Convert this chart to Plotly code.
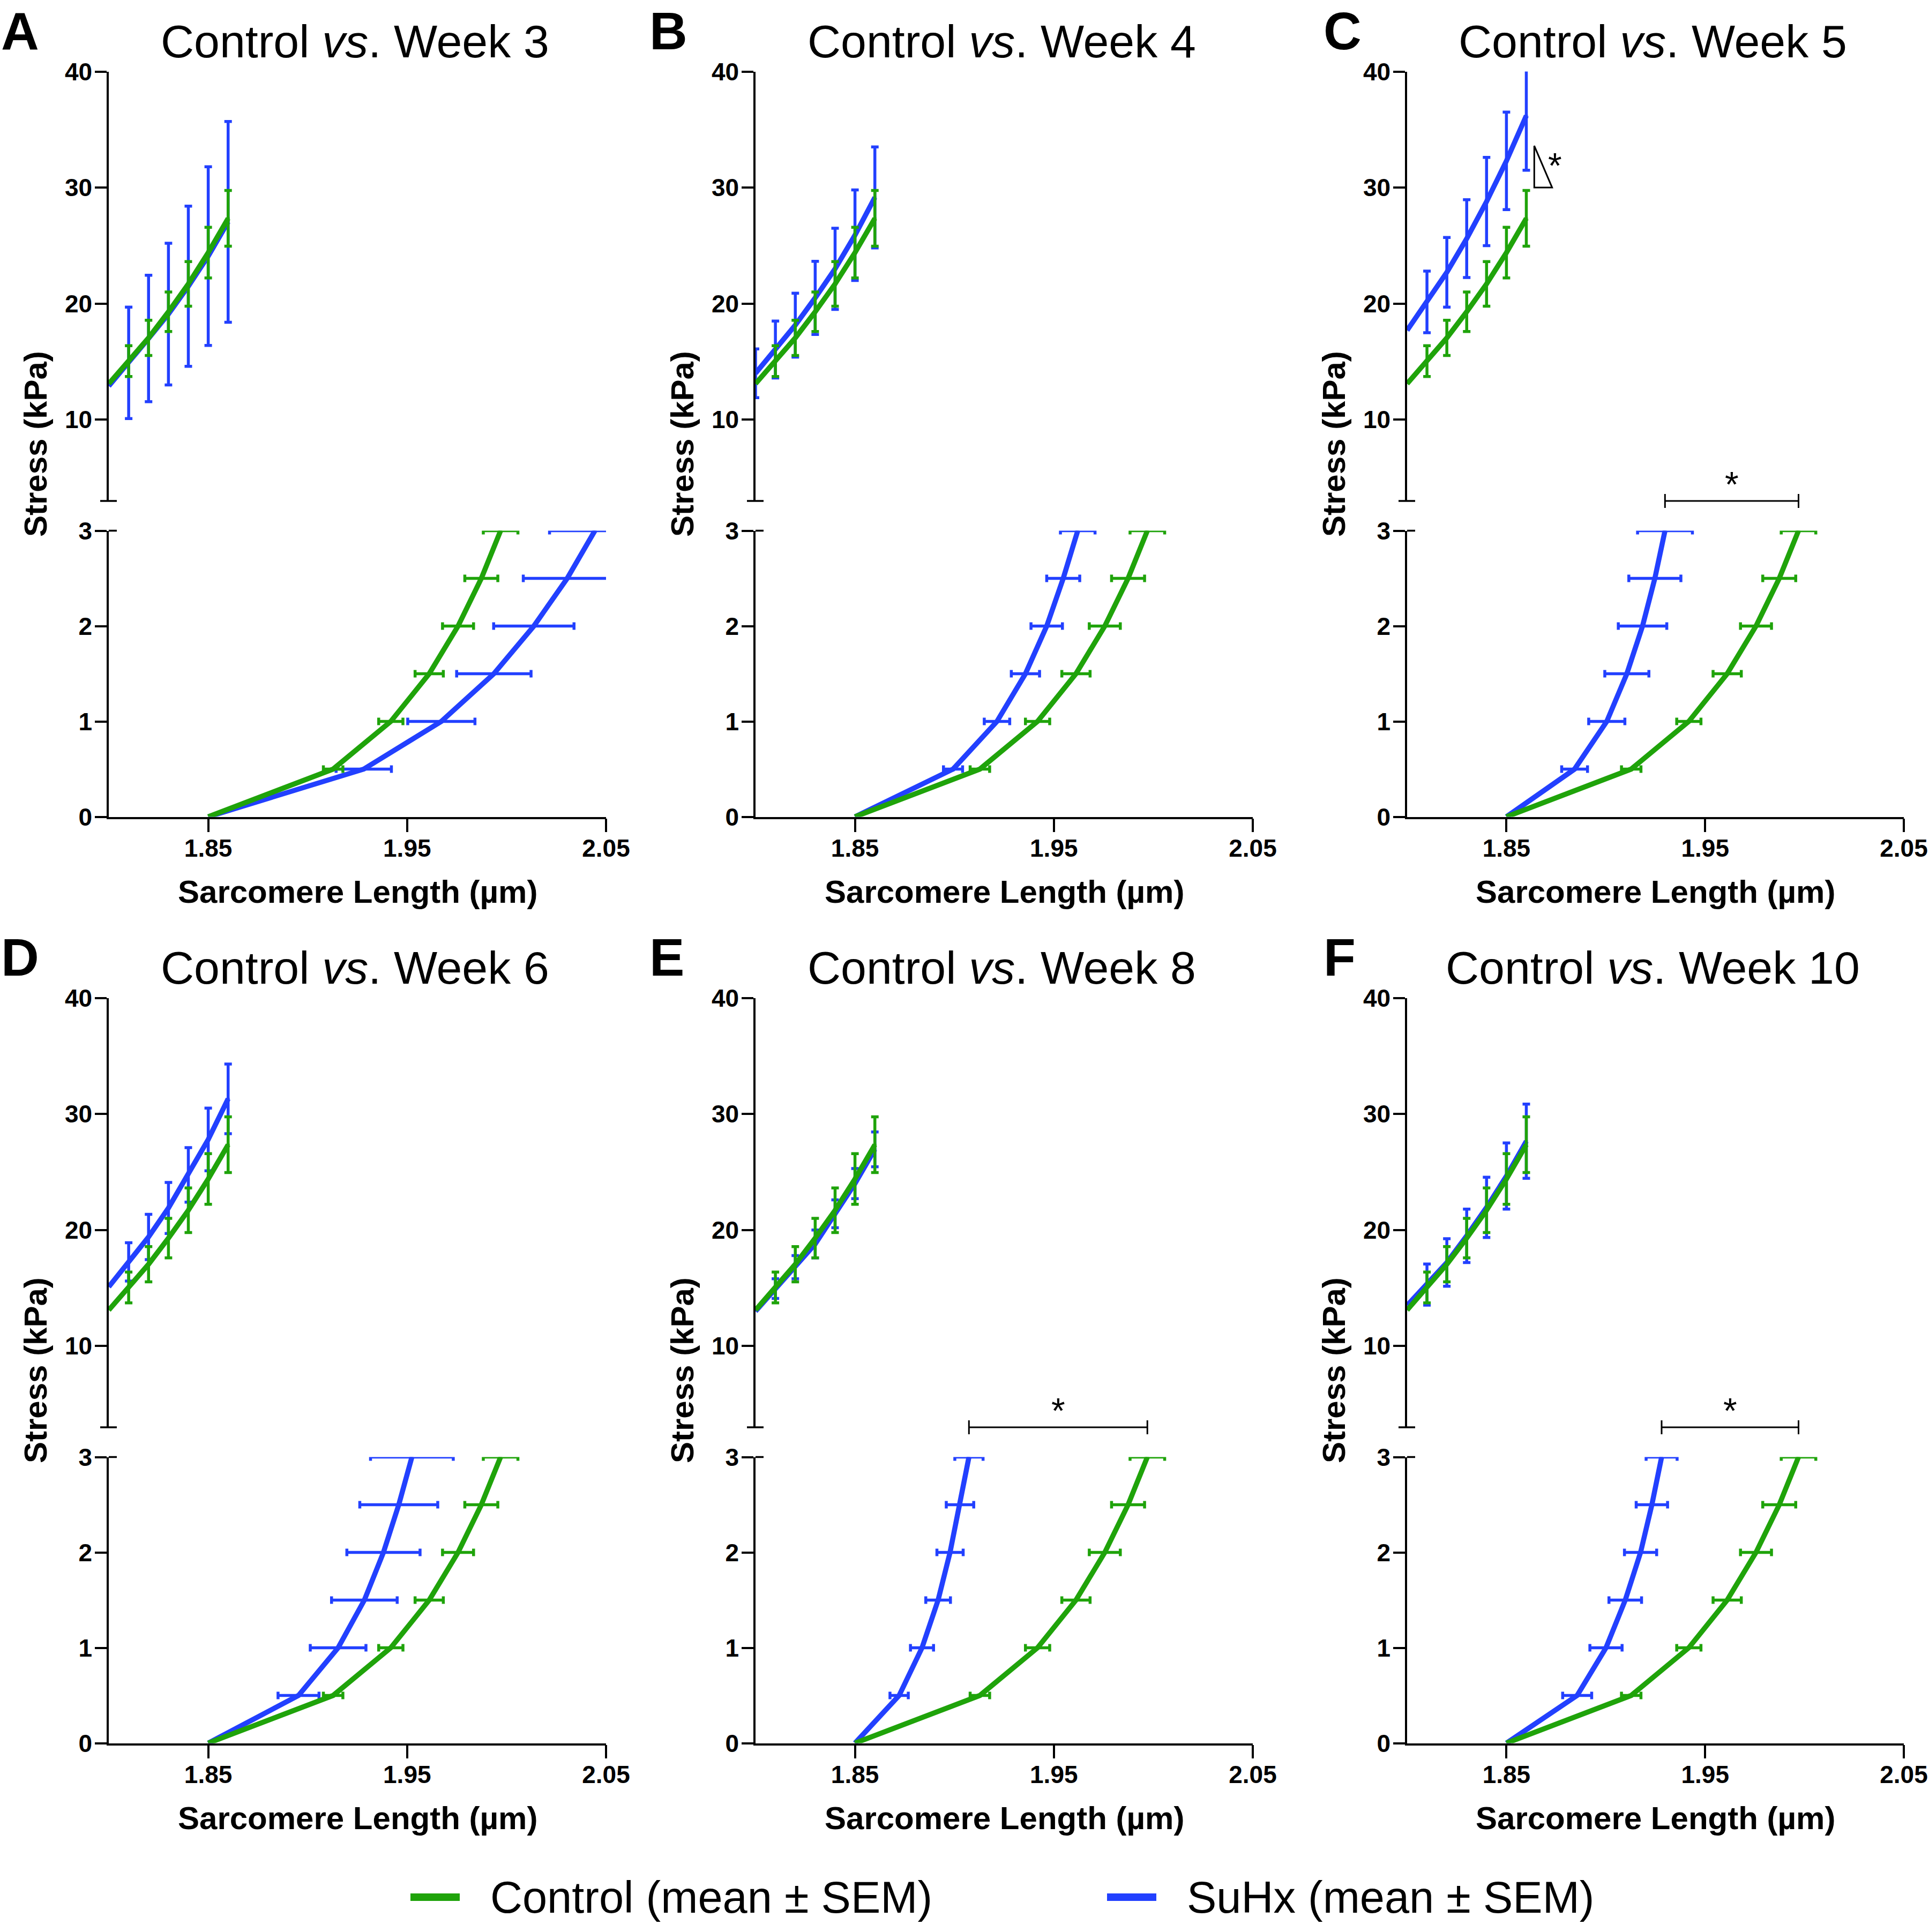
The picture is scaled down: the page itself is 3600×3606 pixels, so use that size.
import plotly.graph_objects as go

W, H = 3600, 3606
FONT = "Liberation Sans, Arial, Helvetica, sans-serif"
GREEN = "#1FA30A"
BLUE = "#2240FF"

PANELS = ["A", "B", "C", "D", "E", "F"]
WEEKS = ["3", "4", "5", "6", "8", "10"]

# ---- upper (high stress) section : sarcomere length (um) / stress (kPa)
TOP_SL = [1.81, 1.82, 1.83, 1.84, 1.85, 1.86]
TOP_START_SL = 1.80
CTRL_TOP_START = 13.1
CTRL_TOP_MEAN = [15.05, 17.05, 19.3, 21.7, 24.4, 27.35]
CTRL_TOP_SEM = [1.33, 1.52, 1.7, 1.92, 2.18, 2.4]

SUHX_TOP_START = [12.9, 14.0, 17.7, 15.1, 13.0, 13.5]
SUHX_TOP_START_SEM = [None, 2.1, None, None, None, None]
SUHX_TOP_MEAN_W3 = [14.9, 17.0, 19.1, 21.5, 24.1, 27.05]
SUHX_TOP_SEM_W3 = [4.8, 5.45, 6.1, 6.9, 7.7, 8.65]
SUHX_TOP_MEAN_W4 = [16.05, 18.15, 20.5, 23.0, 25.9, 29.15]
SUHX_TOP_SEM_W4 = [2.45, 2.75, 3.15, 3.5, 3.9, 4.35]
SUHX_TOP_MEAN_W5 = [20.15, 22.7, 25.6, 28.8, 32.3, 36.2]
SUHX_TOP_SEM_W5 = [2.65, 3.0, 3.35, 3.8, 4.2, 4.7]
SUHX_TOP_MEAN_W6 = [17.25, 19.4, 21.9, 24.75, 27.8, 31.3]
SUHX_TOP_SEM_W6 = [1.65, 1.95, 2.2, 2.35, 2.7, 3.0]
SUHX_TOP_MEAN_W8 = [14.95, 16.8, 18.8, 21.4, 24.0, 26.95]
SUHX_TOP_SEM_W8 = [0.85, 1.0, 1.2, 1.2, 1.3, 1.5]
SUHX_TOP_MEAN_W10 = [15.3, 17.2, 19.5, 21.95, 24.65, 27.65]
SUHX_TOP_SEM_W10 = [1.77, 2.05, 2.3, 2.6, 2.85, 3.2]

# ---- lower (low stress) section : stress (kPa) / sarcomere length (um)
STRESS = [0, 0.5, 1.0, 1.5, 2.0, 2.5, 3.0]
CTRL_SL = [1.85, 1.9128, 1.9418, 1.9611, 1.9756, 1.9873, 1.997]
CTRL_SL_SEM = [0.0049, 0.0061, 0.0071, 0.0078, 0.0083, 0.0087]

SUHX_SL_W3 = [1.85, 1.9282, 1.9672, 1.9936, 2.0137, 2.0305, 2.0444]
SUHX_SL_SEM_W3 = [0.0139, 0.0169, 0.0187, 0.0202, 0.0221, 0.0228]
SUHX_SL_W4 = [1.85, 1.8993, 1.9214, 1.9357, 1.9464, 1.9547, 1.9620]
SUHX_SL_SEM_W4 = [0.0048, 0.0064, 0.0071, 0.0079, 0.0083, 0.0087]
SUHX_SL_W5 = [1.85, 1.8843, 1.9005, 1.9106, 1.9185, 1.9247, 1.9298]
SUHX_SL_SEM_W5 = [0.0065, 0.0091, 0.0111, 0.0122, 0.0131, 0.0138]
SUHX_SL_W6 = [1.85, 1.8954, 1.9153, 1.9285, 1.9381, 1.9458, 1.9524]
SUHX_SL_SEM_W6 = [0.0103, 0.014, 0.0165, 0.0184, 0.0196, 0.0208]
SUHX_SL_W8 = [1.85, 1.8722, 1.8837, 1.8918, 1.8978, 1.9028, 1.9073]
SUHX_SL_SEM_W8 = [0.0046, 0.0058, 0.0062, 0.0066, 0.0069, 0.0071]
SUHX_SL_W10 = [1.85, 1.8856, 1.9001, 1.9098, 1.9175, 1.9232, 1.9281]
SUHX_SL_SEM_W10 = [0.0073, 0.0081, 0.0082, 0.0081, 0.0079, 0.0078]

X_TICKS = [1.85, 1.95, 2.05]
X_TICKTEXT = ["1.85", "1.95", "2.05"]
TOP_Y_TICKS = [10, 20, 30, 40]
BOT_Y_TICKS = [0, 1, 2, 3]

# significance marks
SIG_BRACKET = [False, False, True, False, True, True]
TRI_PANEL = 2
TRI_X = [1.864, 1.873]
TRI_Y = [30.0, 33.6]

SUHX_TOP_MEAN = [SUHX_TOP_MEAN_W3, SUHX_TOP_MEAN_W4, SUHX_TOP_MEAN_W5,
                 SUHX_TOP_MEAN_W6, SUHX_TOP_MEAN_W8, SUHX_TOP_MEAN_W10]
SUHX_TOP_SEM = [SUHX_TOP_SEM_W3, SUHX_TOP_SEM_W4, SUHX_TOP_SEM_W5,
                SUHX_TOP_SEM_W6, SUHX_TOP_SEM_W8, SUHX_TOP_SEM_W10]
SUHX_SL = [SUHX_SL_W3, SUHX_SL_W4, SUHX_SL_W5, SUHX_SL_W6, SUHX_SL_W8, SUHX_SL_W10]
SUHX_SL_SEM = [SUHX_SL_SEM_W3, SUHX_SL_SEM_W4, SUHX_SL_SEM_W5,
               SUHX_SL_SEM_W6, SUHX_SL_SEM_W8, SUHX_SL_SEM_W10]

# ---- geometry in pixels
COL_PX = [(203, 1131), (1410, 2338), (2626, 3553)]
ROW_TOP_PX = [(133.5, 935), (1862.5, 2664)]
ROW_BOT_PX = [(990.5, 1524.5), (2719.5, 3253.5)]
LETTER_X_PX = [0, 1210, 2468]
ROW_SHIFT = 1729


def pxx(p):
    return p / W


def pxy(p):
    return 1 - p / H


LINE_W = 9.5
ERR_T = 5.5
ERR_W = 7
AX_W = 3.5

fig = go.Figure()
layout = dict(
    template="none",
    width=W, height=H, margin=dict(l=0, r=0, t=0, b=0, pad=0, autoexpand=False),
    paper_bgcolor="white", plot_bgcolor="white", showlegend=False,
    font=dict(family=FONT, color="black"),
)
annotations = []
shapes = []

tickfont = dict(family=FONT, size=46, color="black", weight="bold")

for i in range(6):
    r, c = divmod(i, 3)
    x0p, x1p = COL_PX[c]
    t0, t1 = ROW_TOP_PX[r]
    b0, b1 = ROW_BOT_PX[r]
    ti, bi = 2 * i + 1, 2 * i + 2
    tx = "x" if ti == 1 else f"x{ti}"
    ty = "y" if ti == 1 else f"y{ti}"
    bx, by = f"x{bi}", f"y{bi}"
    txk = "xaxis" if ti == 1 else f"xaxis{ti}"
    tyk = "yaxis" if ti == 1 else f"yaxis{ti}"
    bxk, byk = f"xaxis{bi}", f"yaxis{bi}"

    xdom = [pxx(x0p), pxx(x1p)]
    common = dict(showgrid=False, zeroline=False, automargin=False)
    layout[txk] = dict(domain=xdom, range=[1.80, 2.05], visible=False, anchor=ty, **common)
    layout[tyk] = dict(domain=[pxy(t1), pxy(t0)], range=[3, 40], anchor=tx,
                       showline=True, linewidth=AX_W, linecolor="black",
                       ticks="outside", ticklen=22, tickwidth=AX_W, tickcolor="black",
                       tickvals=TOP_Y_TICKS, tickfont=tickfont, ticklabelstandoff=-4, **common)
    layout[bxk] = dict(domain=xdom, range=[1.80, 2.05], anchor=by,
                       showline=True, linewidth=AX_W, linecolor="black",
                       ticks="outside", ticklen=25, tickwidth=AX_W, tickcolor="black",
                       tickvals=X_TICKS, ticktext=X_TICKTEXT, tickfont=tickfont,
                       ticklabelstandoff=-9, **common)
    layout[byk] = dict(domain=[pxy(b1), pxy(b0)], range=[0, 3], anchor=bx,
                       showline=True, linewidth=AX_W, linecolor="black",
                       ticks="outside", ticklen=22, tickwidth=AX_W, tickcolor="black",
                       tickvals=BOT_Y_TICKS, tickfont=tickfont, ticklabelstandoff=-4, **common)

    # ---------- upper section
    s_sem0 = SUHX_TOP_START_SEM[i]
    ex = ([TOP_START_SL] if s_sem0 is not None else []) + TOP_SL
    ey = ([SUHX_TOP_START[i]] if s_sem0 is not None else []) + SUHX_TOP_MEAN[i]
    ee = ([s_sem0] if s_sem0 is not None else []) + SUHX_TOP_SEM[i]
    clip_top = (max(m + s for m, s in zip(ey, ee)) > 40) or s_sem0 is None
    fig.add_trace(go.Scatter(x=ex, y=ey, mode="markers", marker=dict(size=0, color=BLUE),
                             error_y=dict(type="data", array=ee, color=BLUE,
                                          thickness=ERR_T, width=ERR_W),
                             cliponaxis=clip_top, xaxis=tx, yaxis=ty,
                             name="SuHx (mean ± SEM)", hoverinfo="skip"))
    fig.add_trace(go.Scatter(x=[TOP_START_SL] + TOP_SL, y=[SUHX_TOP_START[i]] + SUHX_TOP_MEAN[i],
                             mode="lines", line=dict(color=BLUE, width=LINE_W),
                             xaxis=tx, yaxis=ty, name="SuHx (mean ± SEM)"))
    fig.add_trace(go.Scatter(x=TOP_SL, y=CTRL_TOP_MEAN, mode="markers",
                             marker=dict(size=0, color=GREEN),
                             error_y=dict(type="data", array=CTRL_TOP_SEM, color=GREEN,
                                          thickness=ERR_T, width=ERR_W),
                             cliponaxis=clip_top, xaxis=tx, yaxis=ty,
                             name="Control (mean ± SEM)", hoverinfo="skip"))
    fig.add_trace(go.Scatter(x=[TOP_START_SL] + TOP_SL, y=[CTRL_TOP_START] + CTRL_TOP_MEAN,
                             mode="lines", line=dict(color=GREEN, width=LINE_W),
                             xaxis=tx, yaxis=ty, name="Control (mean ± SEM)"))

    # ---------- lower section
    fig.add_trace(go.Scatter(x=SUHX_SL[i][1:], y=STRESS[1:], mode="markers",
                             marker=dict(size=0, color=BLUE),
                             error_x=dict(type="data", array=SUHX_SL_SEM[i], color=BLUE,
                                          thickness=ERR_T, width=ERR_W),
                             xaxis=bx, yaxis=by, name="SuHx (mean ± SEM)", hoverinfo="skip"))
    fig.add_trace(go.Scatter(x=SUHX_SL[i], y=STRESS, mode="lines",
                             line=dict(color=BLUE, width=LINE_W),
                             xaxis=bx, yaxis=by, name="SuHx (mean ± SEM)"))
    fig.add_trace(go.Scatter(x=CTRL_SL[1:], y=STRESS[1:], mode="markers",
                             marker=dict(size=0, color=GREEN),
                             error_x=dict(type="data", array=CTRL_SL_SEM, color=GREEN,
                                          thickness=ERR_T, width=ERR_W),
                             xaxis=bx, yaxis=by, name="Control (mean ± SEM)", hoverinfo="skip"))
    fig.add_trace(go.Scatter(x=CTRL_SL, y=STRESS, mode="lines",
                             line=dict(color=GREEN, width=LINE_W),
                             xaxis=bx, yaxis=by, name="Control (mean ± SEM)"))

    # ---------- axis break marks
    shapes.append(dict(type="line", xref="paper", yref="paper",
                       x0=pxx(x0p - 16), x1=pxx(x0p + 15), y0=pxy(t1), y1=pxy(t1),
                       line=dict(color="black", width=AX_W)))
    shapes.append(dict(type="line", xref="paper", yref="paper",
                       x0=pxx(x0p), x1=pxx(x0p + 15), y0=pxy(b0), y1=pxy(b0),
                       line=dict(color="black", width=AX_W)))

    # ---------- texts
    cx = (x0p + x1p) / 2
    annotations.append(dict(text=f"Control <i>vs</i>. Week {WEEKS[i]}", xref="paper", yref="paper",
                            x=pxx(cx - 5), y=pxy(77 + r * ROW_SHIFT), xanchor="center",
                            yanchor="middle", showarrow=False,
                            font=dict(family=FONT, size=86, color="black")))
    annotations.append(dict(text=PANELS[i], xref="paper", yref="paper",
                            x=pxx(LETTER_X_PX[c]), y=pxy(58 + r * ROW_SHIFT), xanchor="left",
                            yanchor="middle", showarrow=False,
                            font=dict(family=FONT, size=98, color="black", weight="bold")))
    annotations.append(dict(text="Stress (kPa)", xref="paper", yref="paper", textangle=-90,
                            x=pxx(x0p - 137), y=pxy((t0 + b1) / 2), xanchor="center",
                            yanchor="middle", showarrow=False,
                            font=dict(family=FONT, size=60, color="black", weight="bold")))
    annotations.append(dict(text="Sarcomere Length (µm)", xref="paper", yref="paper",
                            x=pxx(cx), y=pxy(1664 + r * ROW_SHIFT), xanchor="center",
                            yanchor="middle", showarrow=False,
                            font=dict(family=FONT, size=60, color="black", weight="bold")))

    # ---------- significance bracket (lower section)
    if SIG_BRACKET[i]:
        xa, xb = SUHX_SL[i][-1], CTRL_SL[-1]
        yb = t1
        shapes.append(dict(type="line", xref=bx, yref="paper", x0=xa, x1=xb,
                           y0=pxy(yb), y1=pxy(yb), line=dict(color="black", width=3)))
        for xe in (xa, xb):
            shapes.append(dict(type="line", xref=bx, yref="paper", x0=xe, x1=xe,
                               y0=pxy(yb - 13), y1=pxy(yb + 13), line=dict(color="black", width=3)))
        annotations.append(dict(text="*", xref=bx, yref="paper", x=(xa + xb) / 2,
                                y=pxy(yb - 31), xanchor="center", yanchor="middle",
                                showarrow=False, font=dict(family=FONT, size=66, color="black")))

    # ---------- slope significance triangle (upper section)
    if i == TRI_PANEL:
        shapes.append(dict(type="path", xref=tx, yref=ty,
                           path=f"M {TRI_X[0]},{TRI_Y[1]} L {TRI_X[0]},{TRI_Y[0]} L {TRI_X[1]},{TRI_Y[0]} Z",
                           line=dict(color="black", width=3)))
        annotations.append(dict(text="*", xref=tx, yref=ty, x=TRI_X[1] + 0.0015,
                                y=(TRI_Y[0] + TRI_Y[1]) / 2 + 0.1, xanchor="center",
                                yanchor="middle", showarrow=False,
                                font=dict(family=FONT, size=66, color="black")))

# ---------- legend (drawn manually to match swatch geometry)
LEGEND_ITEMS = [("Control (mean ± SEM)", GREEN, 766), ("SuHx (mean ± SEM)", BLUE, 2066)]
for label, col, sx in LEGEND_ITEMS:
    shapes.append(dict(type="line", xref="paper", yref="paper", x0=pxx(sx), x1=pxx(sx + 92),
                       y0=pxy(3541), y1=pxy(3541), line=dict(color=col, width=14)))
    annotations.append(dict(text=label, xref="paper", yref="paper", x=pxx(sx + 147),
                            y=pxy(3541), xanchor="left", yanchor="middle", showarrow=False,
                            font=dict(family=FONT, size=83, color="black")))

layout["annotations"] = annotations
layout["shapes"] = shapes
fig.update_layout(**layout)

fig.write_html("out.html", config={"displayModeBar": False},
               post_script="document.body.style.margin='0';document.body.style.overflow='hidden';")
